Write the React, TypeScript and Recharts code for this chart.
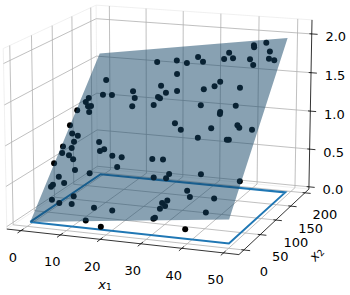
import { ComposedChart, XAxis, YAxis, Line, Area, Scatter, ReferenceLine } from 'recharts';

const W = 350, H = 295;
const x1Ticks = [0, 10, 20, 30, 40, 50];
const x2Ticks = [0, 50, 100, 150, 200];
const yTicks = [0, 0.5, 1, 1.5, 2];
const x1Lim = [-3.65, 53.65];
const x2Lim = [-14.6, 214.6];
const yLim = [-0.03, 2.18];

const x1Values = [
  16.9, 22.1, 4.8, 20.4, 23.5, 13.4, 22.4, 5.6, 8.1, 2.1, 14.6, 20.7, 21.3, 1.7, 2.7, 3.6, 14.7, 20.4, 0.2, 3.7,
  27.7, -0.1, 1.5, 3.3, 2.9, 0.4, 3.0, 9.6, 11.7, 25.2, 0.9, 3.0, 4.5, -0.1, 10.8, 14.1, 17.0, 16.9, 25.2, 28.0,
  6.2, 10.4, 2.7, 4.7, 2.0, 1.7, 27.3, 30.5, 30.9, 8.6, 3.3, 5.5, 8.9, 15.0, 19.9, 14.1, 31.0, 31.3, 31.7, 31.7,
  32.8, 32.7, 18.6, 38.9, 49.1, 36.9, 38.1, 44.2, 43.3, 39.6, 41.3, 41.5, 44.3, 46.0, 35.4, 27.5, 34.6, 36.9, 41.5, 46.4,
  47.9, 29.3, 25.1, 42.8, 35.7, 34.6, 32.1, 41.4, 32.8, 41.9, 38.4, 38.5, 37.5, 29.9, 48.0, 43.9, 44.6, 35.0, 42.5, 43.0,
];
const x2Values = [
  172, 172, 156, 145, 157, 141, 137, 139, 138, 136, 133, 133, 132, 132, 128, 127, 125, 124, 124, 121,
  104, 108, 98, 95, 89, 85, 82, 88, 80, 138, 78, 75, 71, 67, 78, 77, 72, 61, 68, 67,
  59, 55, 52, 46, 44, 42, 49, 48, 52, 32, 29, 26, 24, 20, 17, 8, 8, 9, 18, 24,
  26, 21, 1, 51, 43, 35, 29, 27, 14, -1, 182, 180, 184, 174, 176, 174, 170, 170, 167, 166,
  164, 168, 168, 161, 145, 141, 138, 137, 121, 118, 113, 111, 97, 96, 93, 99, 96, 87, 84, 84,
];
const yValues = [
  1.61, 1.65, 1.37, 1.39, 1.52, 1.3, 1.33, 1.23, 1.24, 1.18, 1.24, 1.28, 1.27, 1.14, 1.1, 1.11, 1.16, 1.2, 1.05, 1.05,
  1.06, 0.9, 0.83, 0.82, 0.76, 0.7, 0.7, 0.79, 0.73, 1.36, 0.64, 0.63, 0.6, 0.54, 0.71, 0.67, 0.68, 0.59, 0.71, 0.72,
  0.51, 0.5, 0.43, 0.38, 0.35, 0.33, 0.55, 0.56, 0.6, 0.28, 0.22, 0.2, 0.21, 0.21, 0.21, 0.09, 0.2, 0.21, 0.29, 0.34,
  0.37, 0.32, 0.06, 0.64, 0.63, 0.48, 0.43, 0.45, 0.32, 0.15, 1.89, 1.87, 1.93, 1.85, 1.79, 1.71, 1.72, 1.74, 1.75, 1.78,
  1.77, 1.67, 1.64, 1.7, 1.5, 1.45, 1.41, 1.47, 1.26, 1.3, 1.22, 1.2, 1.06, 1.01, 1.1, 1.12, 1.1, 0.96, 0.98, 0.98,
];

// fitted surface corners and the outline on the floor
const planeX1 = [0, 49.5, 49.5, 0];
const planeX2 = [7, 7, 187, 187];
const planeHeights = [0, 0.29, 2.0, 1.62];

// camera for the 3D view, everything ends up as sx/sy on two hidden axes
const el = (14 * Math.PI) / 180, az = (-70 * Math.PI) / 180, dist = 10;
const box = [1.19, 1.19, 0.9];
const S = 2000, CX = 163, CY = 122;

function project(a: number, b: number, c: number) {
  const p = [
    ((a - x1Lim[0]) / (x1Lim[1] - x1Lim[0]) - 0.5) * box[0],
    ((b - x2Lim[0]) / (x2Lim[1] - x2Lim[0]) - 0.5) * box[1],
    ((c - yLim[0]) / (yLim[1] - yLim[0]) - 0.5) * box[2],
  ];
  const xv = -Math.sin(az) * p[0] + Math.cos(az) * p[1];
  const yv = -Math.sin(el) * Math.cos(az) * p[0] - Math.sin(el) * Math.sin(az) * p[1] + Math.cos(el) * p[2];
  const zv = Math.cos(el) * Math.cos(az) * p[0] + Math.cos(el) * Math.sin(az) * p[1] + Math.sin(el) * p[2];
  const d = dist - zv;
  return { sx: CX + (S * xv) / d, sy: CY - (S * yv) / d };
}

const seg = (p: number[], q: number[]) => [project(p[0], p[1], p[2]), project(q[0], q[1], q[2])];
const [xa, xb] = x1Lim, [ya, yb] = x2Lim, [za, zb] = yLim;

const grid = [
  ...x1Ticks.map((t) => seg([t, ya, za], [t, yb, za])),
  ...x1Ticks.map((t) => seg([t, yb, za], [t, yb, zb])),
  ...x2Ticks.map((t) => seg([xa, t, za], [xb, t, za])),
  ...x2Ticks.map((t) => seg([xa, t, za], [xa, t, zb])),
  ...yTicks.map((t) => seg([xa, ya, t], [xa, yb, t])),
  ...yTicks.map((t) => seg([xa, yb, t], [xb, yb, t])),
];
const edges = [
  seg([xa, ya, zb], [xa, yb, zb]), seg([xa, yb, zb], [xb, yb, zb]), seg([xa, ya, za], [xa, ya, zb]),
  seg([xa, yb, za], [xa, yb, zb]), seg([xa, ya, za], [xa, yb, za]), seg([xa, yb, za], [xb, yb, za]),
];
const axes = [
  seg([xa, ya, za], [xb, ya, za]), seg([xb, ya, za], [xb, yb, za]), seg([xb, yb, za], [xb, yb, zb]),
  ...x1Ticks.map((t) => seg([t, ya + 6, za], [t, ya - 8, za])),
  ...x2Ticks.map((t) => seg([xb - 0.6, t, za], [xb + 1.5, t, za])),
  ...yTicks.map((t) => seg([xb - 0.6, yb, t], [xb + 1.5, yb, t])),
];
const outline = [0, 1, 2, 3, 0].map((i) => project(planeX1[i], planeX2[i], 0));
const corners = planeX1.map((a, i) => project(a, planeX2[i], planeHeights[i]));

function edgeAt(poly: { sx: number; sy: number }[], x: number) {
  const ys: number[] = [];
  poly.forEach((p, i) => {
    const q = poly[(i + 1) % poly.length];
    if ((p.sx <= x && q.sx >= x) || (q.sx <= x && p.sx >= x)) {
      ys.push(q.sx === p.sx ? p.sy : p.sy + ((q.sy - p.sy) * (x - p.sx)) / (q.sx - p.sx));
    }
  });
  return [Math.min(...ys), Math.max(...ys)];
}
const planeBand = corners.map((c) => c.sx).sort((a, b) => a - b).map((x) => ({ sx: x, band: edgeAt(corners, x) }));

const dots = x1Values.map((a, i) => project(a, x2Values[i], yValues[i]));

const labels = [
  ...x1Ticks.map((t) => { const p = project(t, ya, za); return { sx: p.sx - 8, sy: p.sy + 27, label: String(t) }; }),
  ...x2Ticks.map((t) => { const p = project(xb, t, za); return { sx: p.sx + 20, sy: p.sy + 22, label: String(t) }; }),
  ...yTicks.map((t) => { const p = project(xb, yb, t); return { sx: p.sx + 24, sy: p.sy + 3, label: t.toFixed(1) }; }),
];
const x1Name = [{ sx: 105, sy: 284, sub: '1', rot: 0 }];
const x2Name = [{ sx: 316, sy: 254, sub: '2', rot: -50 }];

const Dot = (p: any) => <circle cx={p.cx} cy={p.cy} r={3} fill="#000" />;
const Tick = (p: any) => (
  <text x={p.cx} y={p.cy} textAnchor="middle" dominantBaseline="central" fontFamily="DejaVu Sans" fontSize={13} fill="#000">
    {p.payload.label}
  </text>
);
const AxisName = (p: any) => (
  <text x={p.cx} y={p.cy} textAnchor="middle" dominantBaseline="central" fontFamily="DejaVu Sans" fontSize={13} fontStyle="italic" fill="#000"
    transform={`rotate(${p.payload.rot} ${p.cx} ${p.cy})`}>
    x<tspan dy={3} fontSize={9} fontStyle="normal">{p.payload.sub}</tspan>
  </text>
);

const toSegment = (d: { sx: number; sy: number }[]) => [{ x: d[0].sx, y: d[0].sy }, { x: d[1].sx, y: d[1].sy }] as any;

export default function App() {
  return (
    <div style={{ position: 'absolute', left: 0, top: 0, background: '#fff' }}>
      <ComposedChart width={W} height={H} margin={{ top: 0, right: 0, bottom: 0, left: 0 }}>
        <XAxis type="number" dataKey="sx" domain={[0, W]} hide />
        <YAxis type="number" dataKey="sy" domain={[0, H]} reversed hide />
        {edges.map((d, i) => (
          <ReferenceLine key={'e' + i} segment={toSegment(d)} stroke="#ececec" strokeWidth={0.8} />
        ))}
        {grid.map((d, i) => (
          <ReferenceLine key={'g' + i} segment={toSegment(d)} stroke="#b0b0b0" strokeWidth={0.8} />
        ))}
        {axes.map((d, i) => (
          <ReferenceLine key={'a' + i} segment={toSegment(d)} stroke="#000" strokeWidth={0.8} />
        ))}
        <Line data={outline} dataKey="sy" stroke="#1f77b4" strokeWidth={2} dot={false} isAnimationActive={false} />
        <Scatter data={dots} shape={Dot} isAnimationActive={false} />
        <Area data={planeBand} dataKey="band" type="linear" stroke="none" fill="#114365" fillOpacity={0.5} isAnimationActive={false} {...({ zIndex: 900 } as any)} />
        <Scatter data={labels} shape={Tick} isAnimationActive={false} />
        <Scatter data={x1Name} shape={AxisName} isAnimationActive={false} />
        <Scatter data={x2Name} shape={AxisName} isAnimationActive={false} />
      </ComposedChart>
    </div>
  );
}
